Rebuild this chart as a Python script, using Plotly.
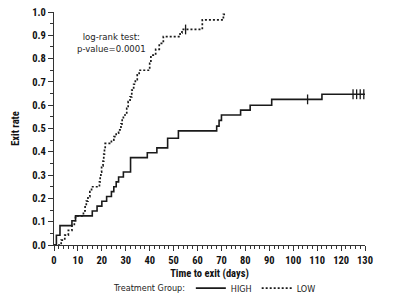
import plotly.graph_objects as go

# HIGH group (solid) - step curve: event times and cumulative exit rate
high_t = [0, 1, 2.5, 7.5, 9, 16, 18, 20, 22, 24, 25, 26, 27, 29, 32, 39, 43, 47.5, 52,
          68, 69, 70, 78, 82, 91, 112, 130]
high_v = [0, 0.042, 0.083, 0.104, 0.125, 0.146, 0.167, 0.188, 0.208, 0.229, 0.25, 0.271,
          0.292, 0.313, 0.375, 0.396, 0.417, 0.458, 0.49, 0.51, 0.535, 0.558, 0.579,
          0.60, 0.625, 0.647, 0.647]
high_cens_t = [106, 125, 126.5, 128, 129.5]
high_cens_v = [0.625, 0.647, 0.647, 0.647, 0.647]

# LOW group (dotted)
low_t = [0, 3, 4.5, 6, 7.5, 8.5, 9, 12.3, 13, 13.5, 14.2, 15, 15.7, 19, 19.3, 19.6, 19.9,
         20.5, 20.8, 21.1, 21.4, 24, 25, 26, 27, 28, 28.5, 29, 30.4, 31, 31.8, 32.5, 33.3,
         34, 34.8, 35.6, 40, 40.5, 42.5, 44, 45.7, 52.7, 53.5, 62, 70.8, 71.5]
low_v = [0, 0.021, 0.042, 0.0625, 0.083, 0.104, 0.125, 0.146, 0.167, 0.188, 0.208, 0.229,
         0.25, 0.271, 0.292, 0.313, 0.34, 0.36, 0.39, 0.41, 0.436, 0.45, 0.465, 0.48, 0.494,
         0.52, 0.54, 0.558, 0.587, 0.615, 0.636, 0.665, 0.69, 0.71, 0.73, 0.75, 0.78, 0.815,
         0.84, 0.865, 0.894, 0.91, 0.925, 0.966, 0.99, 0.99]
low_cens_t = [55]
low_cens_v = [0.925]

x_ticks = list(range(0, 131, 10))
y_ticks = [round(i * 0.1, 1) for i in range(11)]
y_labels = [f"{v:.1f}" for v in y_ticks]

BOLD_FONT = "Roboto Condensed, DejaVu Sans Condensed, sans-serif"
TEXT_FONT = "DejaVu Sans Condensed, Roboto Condensed, sans-serif"
INK = "#1a1a1a"

fig = go.Figure()
fig.add_trace(go.Scatter(x=high_t, y=high_v, mode="lines", line_shape="hv", name="HIGH",
                         line=dict(color=INK, width=1.6)))
fig.add_trace(go.Scatter(x=low_t, y=low_v, mode="lines", line_shape="hv", name="LOW",
                         line=dict(color=INK, width=1.7, dash="2px,2px")))
fig.add_trace(go.Scatter(x=high_cens_t, y=high_cens_v, mode="markers", showlegend=False,
                         marker=dict(symbol="line-ns-open", size=7, color=INK,
                                     line=dict(color=INK, width=1.3))))
fig.add_trace(go.Scatter(x=low_cens_t, y=low_cens_v, mode="markers", showlegend=False,
                         marker=dict(symbol="line-ns-open", size=7, color=INK,
                                     line=dict(color=INK, width=1.3))))

fig.add_annotation(x=0.184, y=0.87, xref="paper", yref="paper", showarrow=False,
                   xanchor="center", yanchor="middle",
                   text="log-rank test:<br>p-value=0.0001", align="center",
                   font=dict(family=TEXT_FONT, size=9.5, color="#222"))
fig.add_annotation(x=0.428, y=-0.185, xref="paper", yref="paper", showarrow=False,
                   xanchor="right", yanchor="middle", text="Treatment Group:",
                   font=dict(family=TEXT_FONT, size=9, color="#222"))

fig.update_layout(
    width=400, height=301,
    margin=dict(l=54, r=35, t=12, b=56, autoexpand=False),
    paper_bgcolor="white", plot_bgcolor="white",
    font=dict(family=TEXT_FONT, size=9, color="#111"),
    showlegend=True,
    legend=dict(orientation="h", x=0.44, xanchor="left", y=-0.185, yanchor="middle",
                font=dict(family=TEXT_FONT, size=9, color="#222"), itemwidth=30,
                bgcolor="rgba(0,0,0,0)"),
    xaxis=dict(range=[0, 130], tickmode="array", tickvals=x_ticks,
               ticktext=[f"<b>{t}</b>" for t in x_ticks], automargin=False,
               ticks="outside", ticklen=5, tickwidth=1, tickcolor="#333",
               showline=True, linecolor="#333", linewidth=1, showgrid=False, zeroline=False,
               minor=dict(dtick=2, ticks="outside", ticklen=3, tickcolor="#333"),
               title=dict(text="<b>Time to exit (days)</b>", standoff=4,
                          font=dict(family=BOLD_FONT, size=10.5)),
               tickfont=dict(family=BOLD_FONT, size=10.5)),
    yaxis=dict(range=[0, 1.0], tickmode="array", tickvals=y_ticks,
               ticktext=[f"<b>{t}</b>" for t in y_labels], automargin=False,
               ticks="outside", ticklen=5, tickwidth=1, tickcolor="#333",
               showline=True, linecolor="#333", linewidth=1, showgrid=False, zeroline=False,
               minor=dict(dtick=0.05, ticks="outside", ticklen=3, tickcolor="#333"),
               title=dict(text="<b>Exit rate</b>", standoff=10,
                          font=dict(family=BOLD_FONT, size=10.5)),
               tickfont=dict(family=BOLD_FONT, size=10.5)),
)

fig.write_html("out.html")
